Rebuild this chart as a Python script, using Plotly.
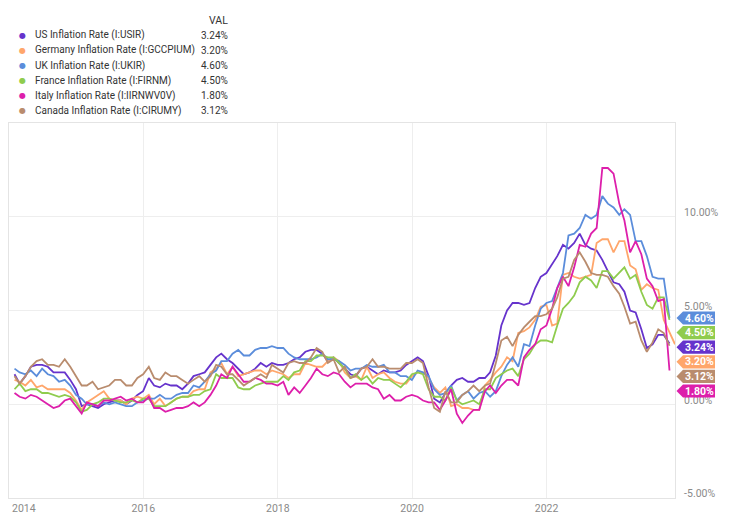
import pandas as pd
import plotly.graph_objects as go

# ---------------- data ----------------
names = [
    "US Inflation Rate (I:USIR)",
    "Germany Inflation Rate (I:GCCPIUM)",
    "UK Inflation Rate (I:UKIR)",
    "France Inflation Rate (I:FIRNM)",
    "Italy Inflation Rate (I:IIRNWV0V)",
    "Canada Inflation Rate (I:CIRUMY)",
]
colors = ["#6633cc", "#ffa66b", "#5b8ddb", "#8fcc4e", "#dd1fab", "#b98c6e"]

us = [1.6, 1.1, 1.5, 2.0, 2.1, 2.1, 2.0, 1.7, 1.7, 1.7, 1.3, 0.8,
      -0.1, 0.0, -0.1, -0.2, 0.0, 0.1, 0.2, 0.2, 0.0, 0.2, 0.5, 0.7,
      1.4, 1.0, 0.9, 1.1, 1.0, 1.0, 0.8, 1.1, 1.5, 1.6, 1.7, 2.1,
      2.5, 2.7, 2.4, 2.2, 1.9, 1.6, 1.7, 1.9, 2.2, 2.0, 2.2, 2.1,
      2.1, 2.2, 2.4, 2.5, 2.8, 2.9, 2.9, 2.7, 2.3, 2.5, 2.2, 1.9,
      1.6, 1.5, 1.9, 2.0, 1.8, 1.6, 1.8, 1.7, 1.7, 1.8, 2.1, 2.3,
      2.5, 2.3, 1.5, 0.3, 0.1, 0.6, 1.0, 1.3, 1.4, 1.2, 1.2, 1.4,
      1.4, 1.7, 2.6, 4.2, 5.0, 5.4, 5.4, 5.3, 5.4, 6.2, 6.8, 7.0,
      7.5, 7.9, 8.5, 8.3, 8.6, 9.1, 8.5, 8.3, 8.2, 7.7, 7.1, 6.5,
      6.4, 6.0, 5.0, 4.9, 4.0, 3.0, 3.2, 3.7, 3.7, 3.24]

germany = [1.3, 1.2, 1.0, 1.3, 0.9, 1.0, 0.8, 0.8, 0.8, 0.8, 0.6, 0.2,
           -0.3, 0.1, 0.3, 0.5, 0.7, 0.3, 0.2, 0.2, 0.0, 0.3, 0.4, 0.3,
           0.5, 0.0, 0.3, -0.1, 0.1, 0.3, 0.4, 0.4, 0.7, 0.8, 0.8, 1.7,
           1.9, 2.2, 1.6, 2.0, 1.5, 1.6, 1.7, 1.8, 1.8, 1.6, 1.8, 1.7,
           1.6, 1.4, 1.6, 1.6, 2.2, 2.1, 2.0, 2.0, 2.3, 2.5, 2.3, 1.7,
           1.4, 1.5, 1.3, 2.0, 1.4, 1.6, 1.7, 1.4, 1.2, 1.1, 1.1, 1.5,
           1.7, 1.7, 1.4, 0.9, 0.6, 0.9, -0.1, 0.0, -0.2, -0.2, -0.3, -0.3,
           1.0, 1.3, 1.7, 2.0, 2.5, 2.3, 3.8, 3.9, 4.1, 4.5, 5.2, 5.3,
           4.2, 4.3, 6.9, 7.0, 6.8, 6.7, 6.8, 6.9, 8.6, 8.8, 8.8, 8.1,
           8.7, 8.7, 7.4, 7.2, 6.1, 6.4, 6.2, 6.1, 4.5, 3.8, 3.2]

uk = [1.9, 1.7, 1.6, 1.8, 1.5, 1.9, 1.6, 1.5, 1.2, 1.3, 1.0, 0.5,
      0.3, 0.0, 0.0, -0.1, 0.1, 0.0, 0.1, 0.0, -0.1, -0.1, 0.1, 0.2,
      0.3, 0.3, 0.5, 0.3, 0.3, 0.5, 0.6, 0.6, 1.0, 0.9, 1.2, 1.6,
      1.8, 2.3, 2.3, 2.7, 2.9, 2.6, 2.6, 2.9, 3.0, 3.0, 3.1, 3.0,
      3.0, 2.7, 2.5, 2.4, 2.4, 2.4, 2.5, 2.7, 2.4, 2.4, 2.3, 2.1,
      1.8, 1.9, 1.9, 2.1, 2.0, 2.0, 2.1, 1.7, 1.7, 1.5, 1.5, 1.3,
      1.8, 1.7, 1.5, 0.8, 0.5, 0.6, 1.0, 0.2, 0.5, 0.7, 0.3, 0.6,
      0.7, 0.4, 0.7, 1.5, 2.1, 2.5, 2.0, 3.2, 3.1, 4.2, 5.1, 5.4,
      5.5, 6.2, 7.0, 9.0, 9.1, 9.4, 10.1, 9.9, 10.1, 11.1, 10.7, 10.5,
      10.1, 10.4, 10.1, 8.7, 8.7, 7.9, 6.8, 6.7, 6.7, 4.6]

france = [0.8, 1.1, 0.7, 0.8, 0.8, 0.6, 0.6, 0.5, 0.4, 0.5, 0.4, 0.1,
          -0.4, -0.3, 0.0, 0.1, 0.3, 0.3, 0.2, 0.1, 0.1, 0.2, 0.1, 0.3,
          0.3, -0.1, -0.1, -0.1, 0.1, 0.3, 0.4, 0.4, 0.5, 0.5, 0.7, 0.8,
          1.6, 1.4, 1.4, 1.4, 0.9, 0.8, 0.8, 1.0, 1.1, 1.2, 1.2, 1.2,
          1.5, 1.3, 1.7, 1.8, 2.3, 2.3, 2.6, 2.6, 2.5, 2.5, 2.2, 1.9,
          1.4, 1.6, 1.3, 1.5, 1.1, 1.4, 1.3, 1.3, 1.1, 0.9, 1.2, 1.6,
          1.7, 1.6, 0.8, 0.4, 0.4, 0.2, 0.9, 0.2, 0.0, 0.1, 0.2, 0.0,
          0.8, 0.8, 1.4, 1.6, 1.8, 1.9, 1.5, 2.4, 2.7, 3.2, 3.4, 3.4,
          3.3, 4.2, 5.1, 5.4, 5.8, 6.5, 6.8, 6.6, 6.2, 7.1, 7.1, 6.7,
          7.0, 7.3, 6.7, 6.9, 6.0, 5.3, 5.1, 5.7, 5.7, 4.5]

italy = [0.6, 0.4, 0.3, 0.5, 0.4, 0.2, 0.0, -0.2, -0.1, 0.2, 0.3, -0.1,
         -0.5, 0.1, 0.0, -0.1, 0.2, 0.2, 0.3, 0.4, 0.2, 0.3, 0.1, 0.1,
         0.4, -0.2, -0.2, -0.4, -0.3, -0.2, -0.2, -0.1, 0.1, -0.1, 0.1, 0.5,
         1.0, 1.6, 1.4, 2.0, 1.6, 1.2, 1.2, 1.4, 1.3, 1.1, 1.1, 1.0,
         1.2, 0.5, 0.9, 0.6, 1.0, 1.4, 1.9, 1.6, 1.5, 1.7, 1.6, 1.2,
         0.9, 1.1, 1.1, 1.1, 0.9, 0.8, 0.3, 0.5, 0.2, 0.2, 0.4, 0.5,
         0.4, 0.2, 0.1, 0.1, -0.3, 0.2, 0.8, -0.5, -1.0, -0.6, -0.3, -0.3,
         0.7, 1.0, 0.6, 1.0, 1.3, 1.3, 1.0, 2.5, 2.9, 3.2, 4.0, 4.2,
         5.1, 6.2, 6.8, 6.3, 7.3, 8.5, 8.4, 9.1, 9.4, 12.6, 12.6, 12.3,
         10.7, 9.8, 8.1, 8.7, 8.0, 6.7, 6.3, 5.5, 5.6, 1.8]

canada = [1.5, 1.1, 1.5, 2.0, 2.3, 2.4, 2.1, 2.1, 2.0, 2.4, 2.0, 1.5,
          1.0, 1.0, 1.2, 0.8, 0.9, 1.0, 1.3, 1.3, 1.0, 1.0, 1.4, 1.6,
          2.0, 1.4, 1.3, 1.7, 1.5, 1.5, 1.3, 1.1, 1.3, 1.5, 1.2, 1.5,
          2.1, 2.0, 1.6, 1.6, 1.3, 1.0, 1.2, 1.4, 1.6, 1.4, 2.1, 1.9,
          1.7, 2.2, 2.3, 2.2, 2.2, 2.5, 3.0, 2.8, 2.2, 2.4, 1.7, 2.0,
          1.4, 1.5, 1.9, 2.0, 2.4, 2.0, 2.0, 1.9, 1.9, 1.9, 2.2, 2.2,
          2.4, 2.2, 0.9, -0.2, -0.4, 0.7, 0.1, 0.1, 0.5, 0.7, 1.0, 0.7,
          1.0, 1.1, 2.2, 3.4, 3.6, 3.1, 3.7, 4.1, 4.4, 4.7, 4.7, 4.8,
          5.1, 5.7, 6.7, 6.8, 7.7, 8.1, 7.6, 7.0, 6.9, 6.9, 6.8, 6.3,
          5.9, 5.2, 4.3, 4.4, 3.4, 2.8, 3.3, 4.0, 3.8, 3.12]

series = [us, germany, uk, france, italy, canada]
last_vals = ["3.24%", "3.20%", "4.60%", "4.50%", "1.80%", "3.12%"]

y_tickvals = [-5, 0, 5, 10]
y_ticktext = ["-5.00%", "0.00%", "5.00%", "10.00%"]
x_tickvals = ["2014-01-01", "2016-01-01", "2018-01-01", "2020-01-01", "2022-01-01"]
x_ticktext = ["", "2016", "2018", "2020", "2022"]
first_year_label = "2014"

# ---------------- layout constants ----------------
W, H = 750, 523
ML, MR, MT, MB = 9, 75, 123, 25
PW, PH = W - ML - MR, H - MT - MB
Y0, Y1 = -5, 15
FONT = "Roboto, sans-serif"


def pxx(x):
    return (x - ML) / PW


def pxy(y):
    return (H - MB - y) / PH


fig = go.Figure()
for vals, name, col in zip(series, names, colors):
    dates = pd.date_range("2014-01-31", periods=len(vals), freq="ME")
    fig.add_trace(go.Scatter(x=dates, y=vals, name=name, mode="lines",
                             line=dict(color=col, width=1.8), showlegend=False,
                             hoverinfo="skip"))

annotations = []
shapes = []

# legend block (top-left)
row_y = [35, 50.5, 65.7, 80.8, 96, 111]
annotations.append(dict(xref="paper", yref="paper", x=pxx(229.5), y=pxy(20), text="VAL",
                        showarrow=False, xanchor="right", yanchor="middle",
                        font=dict(family=FONT, size=10.5, color="#333333")))
for i, (name, col, v) in enumerate(zip(names, colors, last_vals)):
    yy = pxy(row_y[i])
    annotations.append(dict(xref="paper", yref="paper", x=pxx(22.5), y=yy, text="●",
                            showarrow=False, xanchor="center", yanchor="middle",
                            font=dict(family="DejaVu Sans", size=8, color=col)))
    annotations.append(dict(xref="paper", yref="paper", x=pxx(32.5), y=yy, text=name,
                            showarrow=False, xanchor="left", yanchor="middle",
                            font=dict(family=FONT, size=10, color="#333333")))
    annotations.append(dict(xref="paper", yref="paper", x=pxx(229.5), y=yy, text=v,
                            showarrow=False, xanchor="right", yanchor="middle",
                            font=dict(family=FONT, size=10, color="#333333")))

# first year label (left-aligned so it stays inside the page)
annotations.append(dict(xref="paper", yref="paper", x=pxx(10), y=pxy(508), text=first_year_label,
                        showarrow=False, xanchor="left", yanchor="middle",
                        font=dict(family=FONT, size=10.5, color="#8a8a8a")))

# right-hand value tags, stacked to avoid overlap
ppu = PH / (Y1 - Y0)
order = sorted(range(len(series)), key=lambda k: -series[k][-1])
prev = None
for k in order:
    v = series[k][-1]
    ypix = MT + (Y1 - v) * ppu
    if prev is not None and ypix < prev + 14.6:
        ypix = prev + 14.6
    prev = ypix
    yv = Y1 - (ypix - MT) / ppu
    shapes.append(dict(type="path", xref="paper", yref="y", xsizemode="pixel", ysizemode="pixel",
                       xanchor=1, yanchor=yv,
                       path="M 1.5 0 L 8 6.6 L 40 6.6 L 40 -6.6 L 8 -6.6 Z",
                       fillcolor=colors[k], line=dict(width=0), layer="above"))
    annotations.append(dict(xref="paper", yref="y", x=1, y=yv, xshift=24, text=last_vals[k],
                            showarrow=False, xanchor="center", yanchor="middle",
                            font=dict(family=FONT, size=10.5, color="white", weight="bold")))

fig.update_layout(
    width=W, height=H,
    margin=dict(l=ML, r=MR, t=MT, b=MB, pad=0),
    paper_bgcolor="white", plot_bgcolor="white",
    font=dict(family=FONT, size=10.5, color="#888888"),
    showlegend=False,
    annotations=annotations,
    shapes=shapes,
    xaxis=dict(type="date", range=["2014-01-01", "2023-11-30"],
               tickvals=x_tickvals, ticktext=x_ticktext,
               showgrid=True, gridcolor="#eeeeee", gridwidth=1,
               showline=True, linecolor="#e4e4e4", linewidth=1, mirror=True,
               ticks="", tickfont=dict(family=FONT, size=10.5, color="#8a8a8a"),
               zeroline=False, fixedrange=True),
    yaxis=dict(range=[Y0, Y1], side="right", tickvals=y_tickvals, ticktext=y_ticktext,
               showgrid=True, gridcolor="#eeeeee", gridwidth=1,
               showline=True, linecolor="#e4e4e4", linewidth=1, mirror=True,
               ticks="", ticklabelposition="outside top", ticklabelstandoff=6,
               ticklabelshift=3,
               tickfont=dict(family=FONT, size=10.5, color="#8a8a8a"),
               zeroline=False, fixedrange=True),
)

fig.write_html("out.html")
